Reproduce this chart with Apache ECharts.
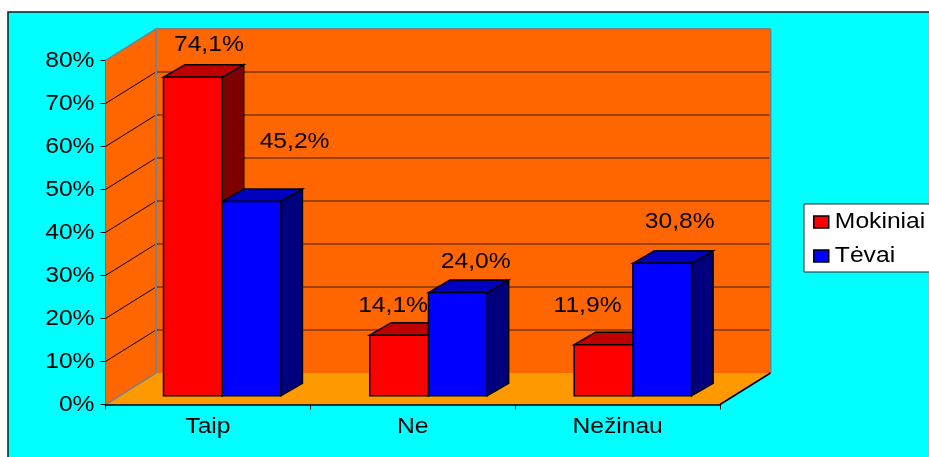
<!DOCTYPE html>
<html><head><meta charset="utf-8">
<style>html,body{margin:0;padding:0;background:#fff}#c{width:929px;height:457px}</style>
<script src="https://cdn.jsdelivr.net/npm/echarts@6/dist/echarts.min.js"></script>
</head><body><div id="c"></div>
<script>
const categories = ['Taip', 'Ne', 'Nežinau'];
const seriesNames = ['Mokiniai', 'Tėvai'];
const mokiniai = [74.1, 14.1, 11.9];
const tevai = [45.2, 24.0, 30.8];
const gridValues = [0, 10, 20, 30, 40, 50, 60, 70, 80];

// layout constants (3-D projection, not data)
const FONT = '"Liberation Sans", Arial, sans-serif';
const FONT_SIZE = 22;
const TEXT_STRETCH = 1.12;
const WALL = {dx: 50.5, dy: -31.5};
const BAR_SHIFT = {dx: 15, dy: -8.7};
const BAR_DEPTH = {dx: 21.5, dy: -12.5};
const BAR_RATIO = 0.2866;
const CATEGORY_NUDGE = [-0.7, 0.7, 0.3];
const LABEL_OFFSETS = {
  Mokiniai: [[16, -32], [-6, -29], [-16, -39]],
  'Tėvai': [[43, -60], [18, -31], [17.5, -41]]
};
const COLORS = {
  Mokiniai: {front: '#FF0000', top: '#BF0000', side: '#7F0000'},
  'Tėvai': {front: '#0000FF', top: '#0000BF', side: '#00007F'}
};

function poly(points, fill, stroke, lw) {
  return {type: 'polygon', shape: {points}, style: {fill, stroke: stroke || 'none', lineWidth: lw || 0}};
}
function line(a, b, stroke, lw) {
  return {type: 'line', shape: {x1: a[0], y1: a[1], x2: b[0], y2: b[1]}, style: {stroke, lineWidth: lw}};
}

function renderWalls(params, api) {
  const cs = params.coordSys;
  const xL = cs.x, xR = cs.x + cs.width;
  const y0 = api.coord([0, 0])[1], yT = api.coord([0, 80])[1];
  const dx = WALL.dx, dy = WALL.dy;
  const kids = [
    poly([[xL, y0], [xL + dx, y0 + dy], [xR + dx, y0 + dy], [xR, y0]], '#FF9900'),
    poly([[xL, y0], [xL, yT], [xL + dx, yT + dy], [xL + dx, y0 + dy]], '#FF6600'),
    poly([[xL + dx, yT + dy], [xR + dx, yT + dy], [xR + dx, y0 + dy], [xL + dx, y0 + dy]], '#FF6600')
  ];
  gridValues.forEach(v => {
    if (v === 0 || v === 80) return;
    const y = api.coord([0, v])[1];
    kids.push(line([xL, y], [xL + dx, y + dy], '#000000', 1));
    kids.push(line([xL + dx, y + dy], [xR + dx, y + dy], '#7F3300', 1.5));
  });
  kids.push(line([xL, yT], [xL + dx, yT + dy], '#808080', 1.5));
  kids.push(line([xL + dx, yT + dy], [xR + dx, yT + dy], '#808080', 2));
  kids.push(line([xL + dx, yT + dy], [xL + dx, y0 + dy], '#808080', 2));
  kids.push(line([xR + dx, yT + dy], [xR + dx, y0 + dy], '#808080', 2));
  kids.push(line([xL, y0], [xL + dx, y0 + dy], '#808080', 1.5));
  kids.push(line([xR, y0], [xR + dx, y0 + dy], '#000000', 1.5));
  return {type: 'group', children: kids};
}

function renderBar(name, sideIndex) {
  return function (params, api) {
    const cat = api.value(0), val = api.value(1);
    const w = api.size([1, 0])[0] * BAR_RATIO;
    const base = api.coord([cat, 0]), top = api.coord([cat, val]);
    const x1 = base[0] + BAR_SHIFT.dx + CATEGORY_NUDGE[params.dataIndex] + (sideIndex - 1) * w, x2 = x1 + w;
    const yb = base[1] + BAR_SHIFT.dy, yt = top[1] + BAR_SHIFT.dy;
    const dx = BAR_DEPTH.dx, dy = BAR_DEPTH.dy, c = COLORS[name];
    const off = LABEL_OFFSETS[name][params.dataIndex];
    const k = '#000000', lw = 1.5;
    return {type: 'group', children: [
      poly([[x2, yt], [x2 + dx, yt + dy], [x2 + dx, yb + dy], [x2, yb]], c.side, k, lw),
      poly([[x1, yt], [x1 + dx, yt + dy], [x2 + dx, yt + dy], [x2, yt]], c.top, k, lw),
      poly([[x1, yt], [x2, yt], [x2, yb], [x1, yb]], c.front, k, lw),
      {type: 'text', z2: 50,
        x: (x1 + x2) / 2 + off[0], y: yt + off[1],
        style: {
          text: val.toFixed(1).replace('.', ',') + '%',
          font: FONT_SIZE + 'px ' + FONT, fill: '#000', align: 'center', verticalAlign: 'middle'
        }}
    ]};
  };
}

const chart = echarts.init(document.getElementById('c'), null, {renderer: 'canvas'});
chart.setOption({
  animation: false,
  backgroundColor: '#ffffff',
  graphic: [{type: 'rect', z: -10, silent: true,
    shape: {x: 8, y: 12, width: 1000, height: 600},
    style: {fill: '#00FFFF', stroke: '#1a1a1a', lineWidth: 1.5}}],
  grid: {left: 105.5, top: 60.5, width: 614.5, height: 344, containLabel: false},
  xAxis: {type: 'category', data: categories, boundaryGap: true,
    axisLine: {lineStyle: {color: '#000', width: 1.5}},
    axisTick: {show: true, length: 5, lineStyle: {color: '#000', width: 1}},
    axisLabel: {color: '#000', fontSize: FONT_SIZE, fontFamily: FONT, margin: 11},
    z: 3},
  yAxis: {type: 'value', min: 0, max: 80, interval: 10,
    axisLine: {show: true, lineStyle: {color: '#555', width: 1}},
    axisTick: {show: true, length: 5, lineStyle: {color: '#000', width: 1}},
    axisLabel: {color: '#000', fontSize: FONT_SIZE, fontFamily: FONT, margin: 11, formatter: '{value}%'},
    splitLine: {show: false}},
  legend: {
    data: seriesNames, orient: 'vertical', left: 804, top: 204,
    backgroundColor: '#fff', borderColor: '#222', borderWidth: 1,
    padding: [7, 24, 5, 9], itemGap: 12, itemWidth: 15, itemHeight: 12, icon: 'rect',
    textStyle: {color: '#000', fontSize: FONT_SIZE, fontFamily: FONT, padding: [0, 0, 0, 1]},
    itemStyle: {borderColor: '#000', borderWidth: 1.5}
  },
  series: [
    {type: 'custom', name: 'walls', silent: true, z: 1, clip: false, renderItem: renderWalls,
      data: [[0, 0]], encode: {x: 0, y: 1}},
    {type: 'custom', name: seriesNames[0], silent: true, z: 2, clip: false,
      renderItem: renderBar(seriesNames[0], 0), itemStyle: {color: '#FF0000'},
      data: mokiniai.map((v, i) => [i, v]), encode: {x: 0, y: 1}},
    {type: 'custom', name: seriesNames[1], silent: true, z: 2, clip: false,
      renderItem: renderBar(seriesNames[1], 1), itemStyle: {color: '#0000FF'},
      data: tevai.map((v, i) => [i, v]), encode: {x: 0, y: 1}}
  ]
});

// The reference's text is horizontally stretched; apply that to every text element.
const zr = chart.getZr();
zr.storage.traverse(el => {
  if (el.type === 'text') {
    el.originX = (el.style && el.style.x) || 0;
    el.scaleX = TEXT_STRETCH;
    el.markRedraw();
  }
});
zr.refresh();
</script></body></html>
